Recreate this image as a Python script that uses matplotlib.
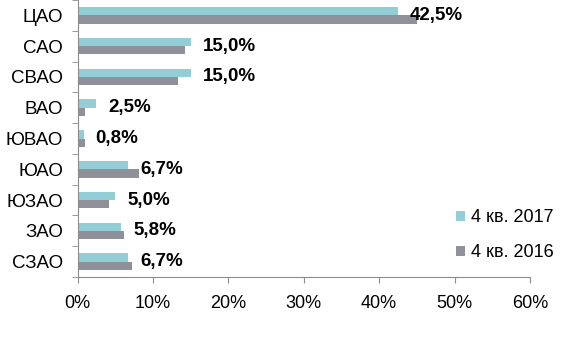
import matplotlib.pyplot as plt
import numpy as np

plt.rcParams['font.family'] = ['Liberation Sans', 'DejaVu Sans']

# data
districts = ['ЦАО', 'САО', 'СВАО', 'ВАО', 'ЮВАО', 'ЮАО', 'ЮЗАО', 'ЗАО', 'СЗАО']
q4_2017 = [42.5, 15.0, 15.0, 2.5, 0.8, 6.7, 5.0, 5.8, 6.7]
q4_2016 = [45.0, 14.3, 13.3, 1.0, 1.0, 8.1, 4.2, 6.2, 7.2]
labels_2017 = ['42,5%', '15,0%', '15,0%', '2,5%', '0,8%', '6,7%', '5,0%', '5,8%', '6,7%']

c17 = '#93CDD6'
c16 = '#8E9199'
axis_col = '#8C8C8C'

fig = plt.figure(figsize=(5.62, 3.52), dpi=100)
ax = fig.add_axes([0.138, 0.213, 0.805, 0.787])

y = np.arange(len(districts))
h = 0.27
ax.barh(y - h / 2, q4_2017, height=h, color=c17, label='4 кв. 2017')
ax.barh(y + h / 2, q4_2016, height=h, color=c16, label='4 кв. 2016')

for yi, v, txt in zip(y, q4_2017, labels_2017):
    ax.annotate(txt, (v, yi), xytext=(8.5, 0), textcoords='offset points',
                ha='left', va='center', fontsize=13.5, fontweight='bold')

ax.set_xlim(0, 60)
ax.set_ylim(8.5, -0.5)
ax.set_xticks(np.arange(0, 61, 10))
ax.set_xticklabels([f'{v}%' for v in range(0, 61, 10)])
ax.set_yticks(y)
ax.set_yticklabels(districts)
ax.set_yticks(np.arange(-0.5, 9, 1), minor=True)

for s in ['top', 'right']:
    ax.spines[s].set_visible(False)
for s in ['left', 'bottom']:
    ax.spines[s].set_color(axis_col)

ax.tick_params(axis='x', length=4.5, color=axis_col, labelsize=13, pad=8.5)
ax.tick_params(axis='y', which='major', length=0, labelsize=13.5, pad=10.5)
ax.tick_params(axis='y', which='minor', length=4, color=axis_col)

fig.legend(loc='center left', bbox_to_anchor=(0.811, 0.332), frameon=False,
           fontsize=13, handlelength=0.5, handleheight=0.5, handletextpad=0.35,
           labelspacing=1.0, borderpad=0, borderaxespad=0)

fig.savefig('out.png', dpi=100)
